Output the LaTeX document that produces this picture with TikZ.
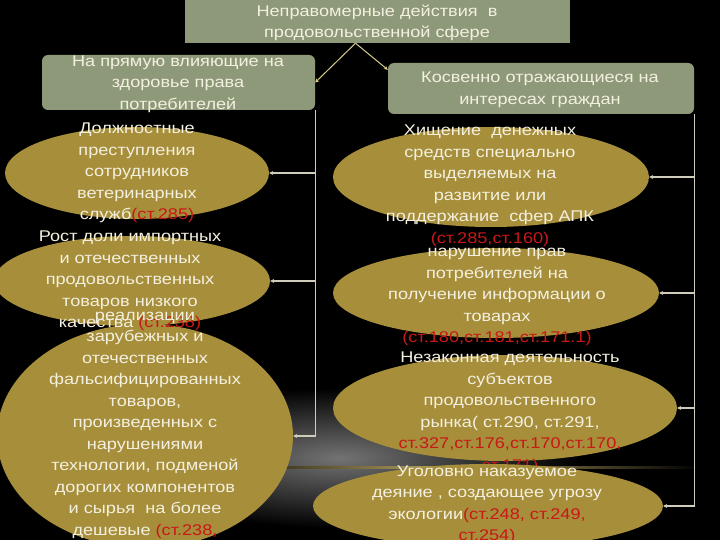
\documentclass[tikz,border=0pt]{standalone}
\usepackage{fontspec}
\setmainfont{Liberation Sans}[FakeStretch=1.17]
\usetikzlibrary{shapes.geometric,arrows.meta}
\definecolor{boxgreen}{RGB}{141,153,120}
\definecolor{ovalgold}{RGB}{166,142,58}
\definecolor{txtlight}{RGB}{244,240,224}
\definecolor{artred}{RGB}{200,24,24}
\definecolor{linkgray}{RGB}{208,204,188}
\definecolor{linkyel}{RGB}{214,204,140}
\newcommand{\art}[1]{\textcolor{artred}{#1}}
\tikzset{
  head/.style={rectangle, fill=boxgreen, inner sep=0pt},
  group/.style={rectangle, rounded corners=6pt, fill=boxgreen, inner sep=0pt},
  oval/.style={ellipse, fill=ovalgold, inner sep=0pt},
  txt/.style={text=txtlight, align=center, inner sep=0pt,
    font=\fontsize{15.5}{21.5}\selectfont},
  feed/.style={draw=linkyel, line width=1pt, -{Stealth[length=4pt,width=4pt]}},
  link/.style={draw=linkgray, line width=1.2pt, -{Stealth[length=4pt,width=4pt]}},
}
\begin{document}
\begin{tikzpicture}[x=1pt,y=-1pt]
    \fill[black] (0,0) rectangle (720,540);
    \clip (0,0) rectangle (720,540);
    % background glow
    \shade[inner color=black!55, outer color=black] (340,458) ellipse (240 and 70);
    \shade[left color=black, right color=black, middle color=ovalgold!80] (190,466) rectangle (700,468);
    % header boxes
    \node[head, minimum width=385pt, minimum height=43pt] (top) at (377.5,21.5) {};
    \node[group, minimum width=273pt, minimum height=55pt] (direct) at (178.5,82.5) {};
    \node[group, minimum width=306pt, minimum height=51pt] (indirect) at (541,88.5) {};
    \node[txt] (toptxt) at (377,23) {Неправомерные действия~ в\\продовольственной сфере};
    \node[txt] (directtxt) at (178,84) {На прямую влияющие на\\здоровье права\\потребителей};
    \node[txt] (indirecttxt) at (540,90) {Косвенно отражающиеся на\\интересах граждан};
    % ovals
    \node[oval, minimum width=264pt, minimum height=92pt] (e1) at (137,173) {};
    \node[oval, minimum width=276pt, minimum height=90pt] (e2) at (132,281) {};
    \node[oval, minimum width=296pt, minimum height=224pt] (e3) at (145,436) {};
    \node[oval, minimum width=316pt, minimum height=100pt] (r1) at (491,177) {};
    \node[oval, minimum width=326pt, minimum height=90pt] (r2) at (496,293) {};
    \node[oval, minimum width=344pt, minimum height=106pt] (r3) at (505,408) {};
    % oval texts
    \node[txt] (t1) at (137,173) {Должностные\\преступления\\сотрудников\\ветеринарных\\служб\art{(ст.285)}};
    \node[txt] (t2) at (130,281) {Рост доли импортных\\и отечественных\\продовольственных\\товаров низкого\\качества \art{(ст.238)}};
    \node[txt] (t3) at (145,425) {реализации\\зарубежных и\\отечественных\\фальсифицированных\\товаров,\\произведенных с\\нарушениями\\технологии, подменой\\дорогих компонентов\\и сырья~ на более\\дешевые \art{(ст.238,}};
    \node[txt] (s1) at (490,186) {Хищение~ денежных\\средств специально\\выделяемых на\\развитие или\\поддержание~ сфер АПК\\\art{(ст.285,ст.160)}};
    \node[txt] (s2) at (497,297) {нарушение прав\\потребителей на\\получение информации о\\товарах\\\art{(ст.180,ст.181,ст.171.1)}};
    \node[txt] (s3) at (510,413) {Незаконная деятельность\\субъектов\\продовольственного\\рынка( ст.290, ст.291,\\\art{ст.327,ст.176,ст.170,ст.170,}\\\art{ст.171)}};
    \node[oval, minimum width=350pt, minimum height=84pt] (r4) at (488,506) {};
    \node[txt] (s4) at (487,505) {Уголовно наказуемое\\деяние , создающее угрозу\\экологии\art{(ст.248, ст.249,}\\\art{ст.254)}};
    % connectors
    \draw[feed] ([xshift=-22pt]top.south) -- (direct.east);
    \draw[feed] ([xshift=-22pt]top.south) -- ([yshift=-7pt]indirect.north west);
    \foreach \e in {e1,e2,e3} {
        \draw[link] (direct.south east) |- (\e.east);
    };
    \foreach \r in {r1,r2,r3,r4} {
        \draw[link] (indirect.south east) |- (\r.east);
    };
\end{tikzpicture}
\end{document}
